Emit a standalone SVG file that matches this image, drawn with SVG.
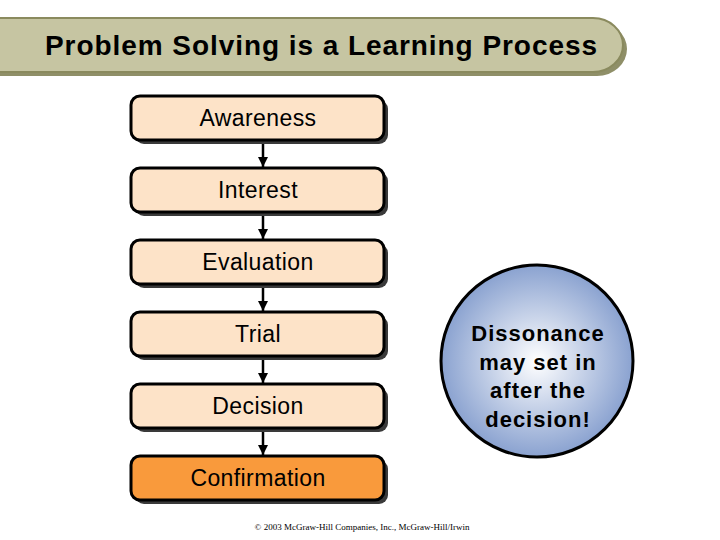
<svg xmlns="http://www.w3.org/2000/svg" width="720" height="540" viewBox="0 0 720 540">
<style>
.box{fill:#fde3c8;stroke:#000;stroke-width:3}
.shadow{fill:#3a3a3a}
.lbl{font-family:"Liberation Sans",Arial,sans-serif;font-size:23px;letter-spacing:0.4px;fill:#000;text-anchor:middle}
.conn{stroke:#000;stroke-width:2.5;fill:none}
</style>
<defs>
<marker id="ah" viewBox="0 0 10 10" refX="10" refY="5" markerWidth="4" markerHeight="4" orient="auto" markerUnits="strokeWidth">
<path d="M0,0 L10,5 L0,10 z" fill="#000"/>
</marker>
<radialGradient id="cg" cx="0.5" cy="0.5" r="0.5">
<stop offset="0" stop-color="#ffffff"/>
<stop offset="1" stop-color="#8aa2d0"/>
</radialGradient>
</defs>
<rect width="720" height="540" fill="#fff"/>
<g id="title">
<path d="M-5,22 H597 A30,27 0 0 1 597,76 H-5 Z" fill="#8f8f68"/>
<path d="M-5,18 H593 A30,27 0 0 1 593,72 H-5 Z" fill="#c6c5a2" stroke="#8a8a5e" stroke-width="2"/>
<text x="45" y="55" font-family="'Liberation Sans',Arial,sans-serif" font-size="28" font-weight="bold" textLength="552" lengthAdjust="spacing" fill="#000">Problem Solving is a Learning Process</text>
</g>
<g id="connectors">
<line class="conn" x1="263" y1="140" x2="263" y2="167" marker-end="url(#ah)"/>
<line class="conn" x1="263" y1="212" x2="263" y2="239" marker-end="url(#ah)"/>
<line class="conn" x1="263" y1="284" x2="263" y2="311" marker-end="url(#ah)"/>
<line class="conn" x1="263" y1="356" x2="263" y2="383" marker-end="url(#ah)"/>
<line class="conn" x1="263" y1="428" x2="263" y2="455" marker-end="url(#ah)"/>
</g>
<g id="awareness">
<rect class="shadow" x="135" y="100" width="253" height="44" rx="9"/>
<rect class="box" x="131" y="96" width="253" height="44" rx="9"/>
<text class="lbl" x="258" y="126">Awareness</text>
</g>
<g id="interest">
<rect class="shadow" x="135" y="172" width="253" height="44" rx="9"/>
<rect class="box" x="131" y="168" width="253" height="44" rx="9"/>
<text class="lbl" x="258" y="198">Interest</text>
</g>
<g id="evaluation">
<rect class="shadow" x="135" y="244" width="253" height="44" rx="9"/>
<rect class="box" x="131" y="240" width="253" height="44" rx="9"/>
<text class="lbl" x="258" y="270">Evaluation</text>
</g>
<g id="trial">
<rect class="shadow" x="135" y="316" width="253" height="44" rx="9"/>
<rect class="box" x="131" y="312" width="253" height="44" rx="9"/>
<text class="lbl" x="258" y="342">Trial</text>
</g>
<g id="decision">
<rect class="shadow" x="135" y="388" width="253" height="44" rx="9"/>
<rect class="box" x="131" y="384" width="253" height="44" rx="9"/>
<text class="lbl" x="258" y="414">Decision</text>
</g>
<g id="confirmation">
<rect class="shadow" x="135" y="460" width="253" height="44" rx="9"/>
<rect class="box" x="131" y="456" width="253" height="44" rx="9" style="fill:#f99a3c"/>
<text class="lbl" x="258" y="486">Confirmation</text>
</g>
<g id="dissonance">
<circle cx="537" cy="361" r="96" fill="url(#cg)" stroke="#000" stroke-width="3"/>
<g font-family="'Liberation Sans',Arial,sans-serif" font-size="22" font-weight="bold" letter-spacing="1" text-anchor="middle" fill="#000">
<text x="538" y="341">Dissonance</text>
<text x="538" y="370">may set in</text>
<text x="538" y="398">after the</text>
<text x="538" y="427">decision!</text>
</g>
</g>
<text x="362" y="530" font-family="'Liberation Serif','Times New Roman',serif" font-size="9" text-anchor="middle" fill="#000">© 2003 McGraw-Hill Companies, Inc., McGraw-Hill/Irwin</text>
</svg>
